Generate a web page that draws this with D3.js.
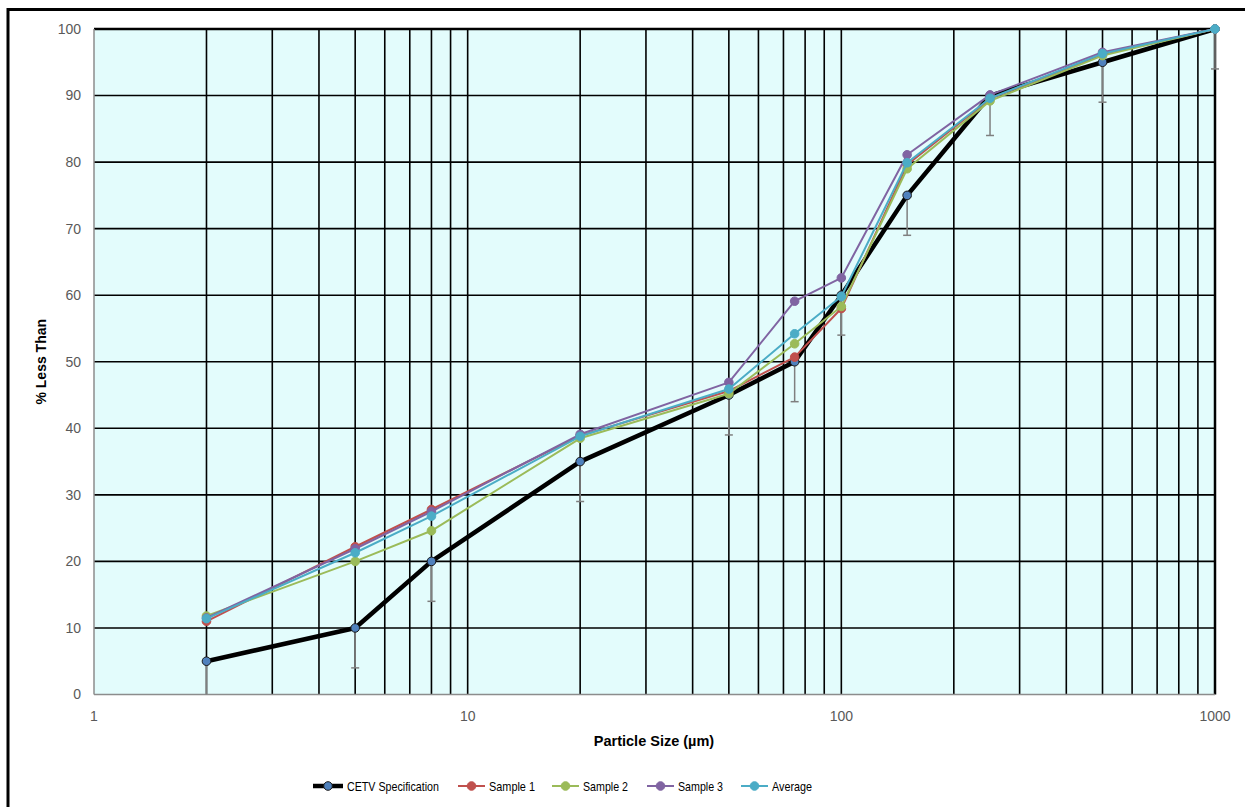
<!DOCTYPE html>
<html><head><meta charset="utf-8">
<script src="https://cdn.jsdelivr.net/npm/d3@7"></script>
<style>body{margin:0;background:#fff}svg{display:block}</style>
</head><body>
<svg id="c" width="1245" height="807"></svg>
<script>
const sizes = [2, 5, 8, 20, 50, 75, 100, 150, 250, 500, 1000];
const cetvSpec = [5, 10, 20, 35, 45, 50, 60, 75, 90, 95, 100];
const cetvErrMinus = [6, 6, 6, 6, 6, 6, 6, 6, 6, 6, 6];
const sample1 = [11.0, 22.2, 27.8, 38.9, 45.6, 50.7, 58.0, 79.6, 89.5, 96.2, 100];
const sample2 = [11.8, 20.0, 24.6, 38.5, 45.2, 52.7, 58.3, 79.0, 89.2, 96.0, 100];
const sample3 = [11.5, 21.9, 27.5, 39.1, 46.9, 59.1, 62.6, 81.1, 90.1, 96.5, 100];
const average = [11.4, 21.3, 26.8, 38.8, 45.9, 54.2, 59.8, 79.9, 89.6, 96.3, 100];
const yTicks = [0, 10, 20, 30, 40, 50, 60, 70, 80, 90, 100];
const xTickLabels = [1, 10, 100, 1000];
const seriesNames = ["CETV Specification", "Sample 1", "Sample 2", "Sample 3", "Average"];

const svg = d3.select("#c");
const L = 94, R = 1215, T = 29, B = 694.5;
const x = d3.scaleLog().domain([1, 1000]).range([L, R]);
const y = d3.scaleLinear().domain([0, 100]).range([B, T]);
const font = "'Liberation Sans', Arial, sans-serif";

// outer frame (top and left edges)
svg.append("line").attr("x1", 8).attr("x2", 1245).attr("y1", 9.5).attr("y2", 9.5).attr("stroke", "#000").attr("stroke-width", 3);
svg.append("line").attr("x1", 8).attr("x2", 8).attr("y1", 8).attr("y2", 807).attr("stroke", "#000").attr("stroke-width", 3);

// plot background
svg.append("rect").attr("x", L).attr("y", T).attr("width", R - L).attr("height", B - T).attr("fill", "#e3fcfc");

// vertical grid
const vGrid = [];
[1, 10, 100].forEach(d => { for (let k = 1; k <= 9; k++) vGrid.push(d * k); });
vGrid.push(1000);
svg.append("g").selectAll("line").data(vGrid.filter(v => v > 1)).join("line")
  .attr("x1", d => x(d)).attr("x2", d => x(d)).attr("y1", T).attr("y2", B)
  .attr("stroke", "#000").attr("stroke-width", d => d === 1000 ? 2.5 : 1.6);

// horizontal grid
svg.append("g").selectAll("line").data(yTicks.filter(v => v > 0)).join("line")
  .attr("x1", L).attr("x2", R).attr("y1", d => y(d)).attr("y2", d => y(d))
  .attr("stroke", "#000").attr("stroke-width", d => d === 100 ? 2.5 : 1.6);

// axes lines
svg.append("line").attr("x1", L).attr("x2", L).attr("y1", T).attr("y2", B).attr("stroke", "#8c8c8c").attr("stroke-width", 1.5);
svg.append("line").attr("x1", L).attr("x2", R).attr("y1", B).attr("y2", B).attr("stroke", "#8c8c8c").attr("stroke-width", 1.5);

// tick labels
svg.append("g").selectAll("text").data(yTicks).join("text")
  .attr("x", 81).attr("y", d => y(d)).attr("dy", "0.35em").attr("text-anchor", "end")
  .attr("font-family", font).attr("font-size", 14).attr("fill", "#595959").text(d => d);
svg.append("g").selectAll("text").data(xTickLabels).join("text")
  .attr("x", d => x(d)).attr("y", 721).attr("text-anchor", "middle")
  .attr("font-family", font).attr("font-size", 14).attr("fill", "#595959").text(d => d);

// axis titles
svg.append("text").attr("x", 654).attr("y", 746).attr("text-anchor", "middle")
  .attr("font-family", font).attr("font-size", 14.5).attr("font-weight", "bold").attr("fill", "#000")
  .text("Particle Size (µm)");
svg.append("text").attr("transform", "translate(46," + ((T + B) / 2) + ") rotate(-90)").attr("text-anchor", "middle")
  .attr("font-family", font).attr("font-size", 14).attr("font-weight", "bold").attr("fill", "#000")
  .text("% Less Than");

// error bars (minus only)
const eb = svg.append("g");
sizes.forEach((s, i) => {
  const lo = Math.max(0, cetvSpec[i] - cetvErrMinus[i]);
  eb.append("line").attr("x1", x(s)).attr("x2", x(s)).attr("y1", y(cetvSpec[i])).attr("y2", y(lo))
    .attr("stroke", "#7f7f7f").attr("stroke-width", 1.5);
  if (cetvSpec[i] - cetvErrMinus[i] >= 0)
    eb.append("line").attr("x1", x(s) - 4).attr("x2", x(s) + 4).attr("y1", y(lo)).attr("y2", y(lo))
      .attr("stroke", "#7f7f7f").attr("stroke-width", 1.5);
});

const series = [
  {name: seriesNames[0], vals: cetvSpec, color: "#000", width: 4.5, mfill: "#4f81bd", mstroke: "#1a1a1a", r: 4.3},
  {name: seriesNames[1], vals: sample1, color: "#c0504d", width: 2, mfill: "#c0504d", mstroke: "#c0504d", r: 4.3},
  {name: seriesNames[2], vals: sample2, color: "#9bbb59", width: 2, mfill: "#9bbb59", mstroke: "#9bbb59", r: 4.3},
  {name: seriesNames[3], vals: sample3, color: "#8064a2", width: 2, mfill: "#8064a2", mstroke: "#8064a2", r: 4.3},
  {name: seriesNames[4], vals: average, color: "#4bacc6", width: 2, mfill: "#4bacc6", mstroke: "#4bacc6", r: 4.3}
];
const line = d3.line().x(d => x(d[0])).y(d => y(d[1]));
series.forEach(s => {
  const pts = sizes.map((v, i) => [v, s.vals[i]]);
  const g = svg.append("g");
  g.append("path").attr("d", line(pts)).attr("fill", "none").attr("stroke", s.color)
    .attr("stroke-width", s.width).attr("stroke-linejoin", "round");
  g.selectAll("circle").data(pts).join("circle").attr("cx", d => x(d[0])).attr("cy", d => y(d[1]))
    .attr("r", s.r).attr("fill", s.mfill).attr("stroke", s.mstroke).attr("stroke-width", 1);
});

// legend
const legX = [313, 458, 552, 647, 741];
const legTextW = [92, 46, 45, 45, 40];
const legY = 786;
series.forEach((s, i) => {
  const g = svg.append("g");
  const lw = i === 0 ? 30 : 27;
  g.append("line").attr("x1", legX[i]).attr("x2", legX[i] + lw).attr("y1", legY).attr("y2", legY)
    .attr("stroke", s.color).attr("stroke-width", s.width);
  g.append("circle").attr("cx", legX[i] + lw / 2).attr("cy", legY).attr("r", s.r)
    .attr("fill", s.mfill).attr("stroke", s.mstroke).attr("stroke-width", 1);
  g.append("text").attr("x", legX[i] + lw + 4).attr("y", legY).attr("dy", "0.35em")
    .attr("font-family", font).attr("font-size", 13.5).attr("fill", "#000")
    .attr("textLength", legTextW[i]).attr("lengthAdjust", "spacingAndGlyphs").text(s.name);
});
</script>
</body></html>
